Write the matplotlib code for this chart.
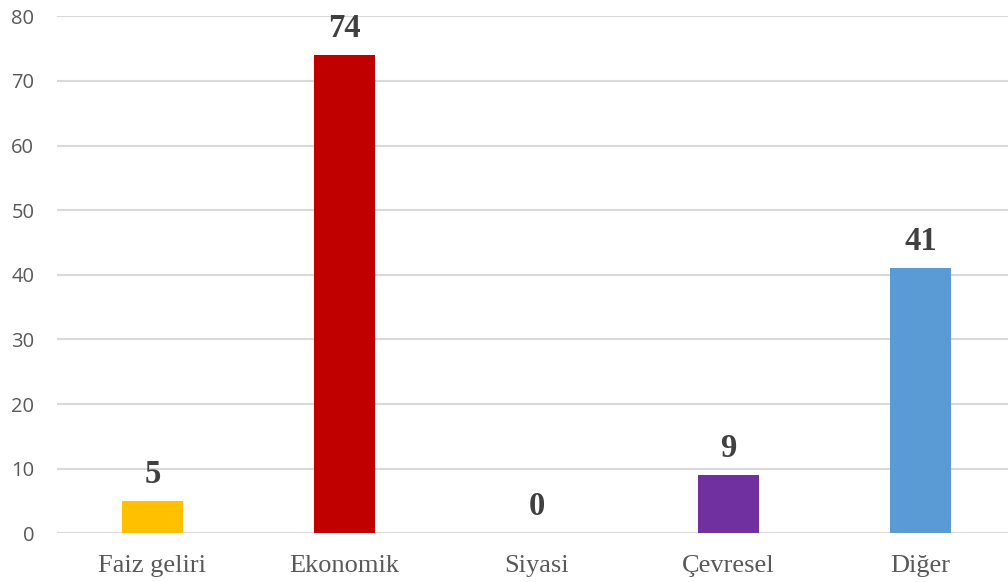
import matplotlib.pyplot as plt

categories = ["Faiz geliri", "Ekonomik", "Siyasi", "Çevresel", "Diğer"]
values = [5, 74, 0, 9, 41]
colors = ["#FFC000", "#C00000", "#A5A5A5", "#7030A0", "#5B9BD5"]

fig = plt.figure(figsize=(10.08, 5.82), dpi=100)
ax = fig.add_axes([56.5 / 1008, (582 - 533.3) / 582, 960 / 1008, 517 / 582])

x = range(len(categories))
bars = ax.bar(x, values, width=0.32, color=colors, zorder=3)

for xi, v in zip(x, values):
    ax.text(xi, v + 1.7, str(v), ha="center", va="bottom",
            fontsize=23.5, fontweight="bold", family="Liberation Serif", color="#404040")

ax.set_xlim(-0.5, 4.5)
ax.set_ylim(0, 80)
ax.set_yticks(range(0, 81, 10))
ax.set_xticks(list(x))
ax.set_xticklabels(categories, family="Liberation Serif", fontsize=19, color="#595959")
for lab in ax.get_yticklabels():
    lab.set_family("Open Sans")
    lab.set_fontsize(14.5)
    lab.set_color("#595959")

ax.grid(axis="y", color="#D9D9D9", linewidth=1.5, zorder=0)
ax.tick_params(axis="both", length=0)
ax.tick_params(axis="y", pad=16)
ax.tick_params(axis="x", pad=15.5)
for s in ax.spines.values():
    s.set_visible(False)

fig.savefig("out.png", dpi=100)
